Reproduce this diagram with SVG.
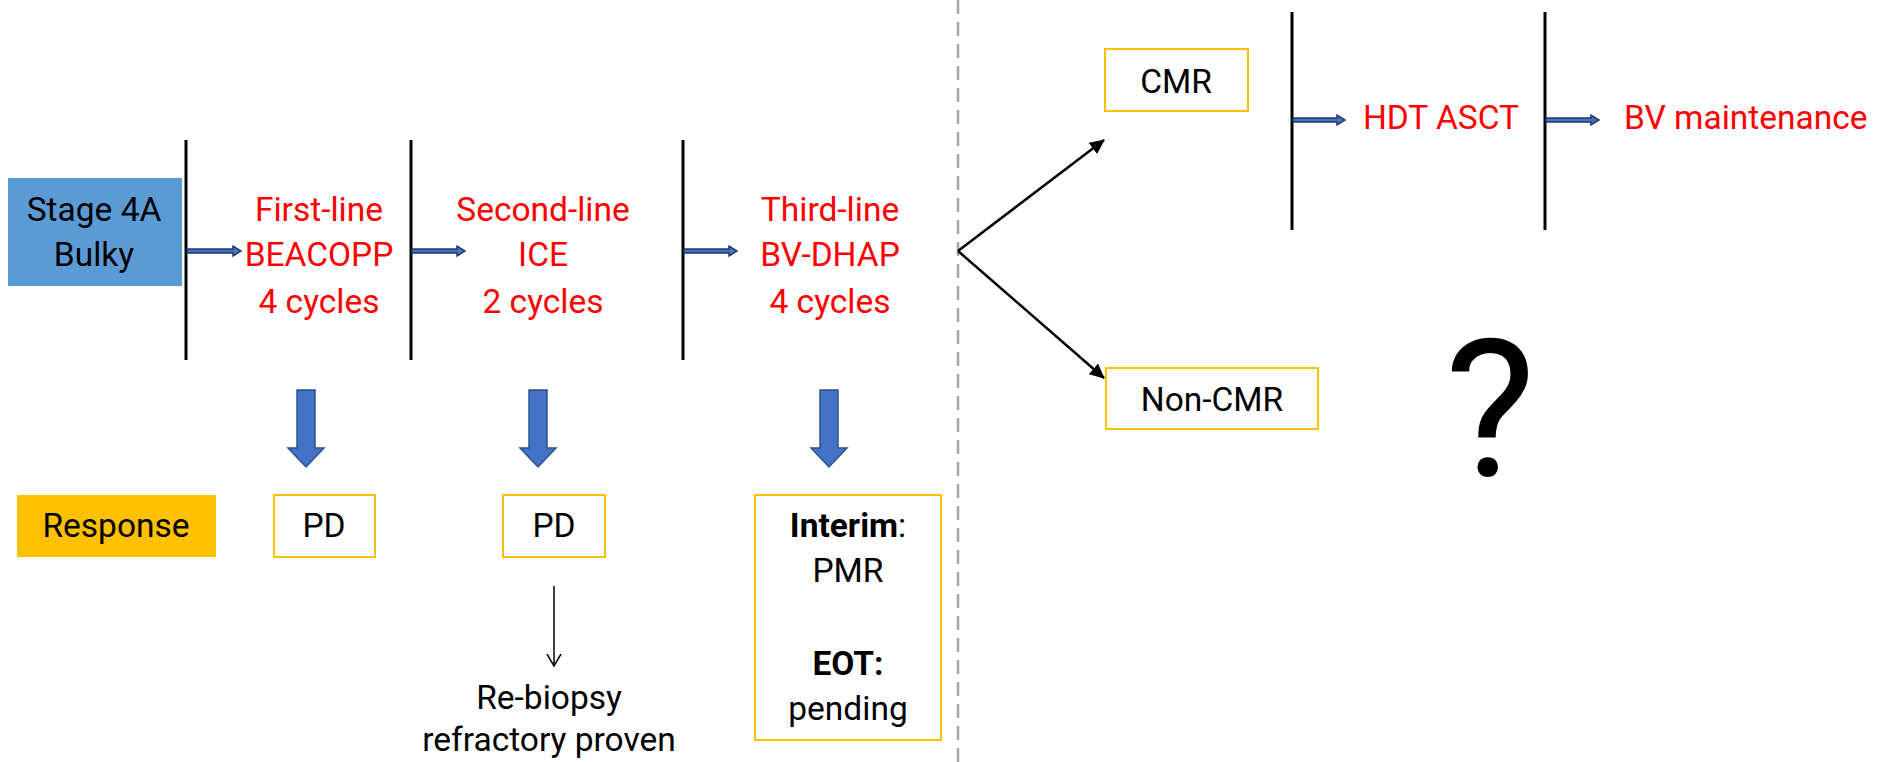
<svg xmlns="http://www.w3.org/2000/svg" width="1878" height="762" viewBox="0 0 1878 762">
<style>
text{font-family:Roboto,"Liberation Sans",sans-serif;font-size:33.5px;text-anchor:middle;fill:#000}
.red{fill:#FF0000}
.vline{stroke:#000;stroke-width:3}
.dbl{fill:#4472C4;stroke:#203864;stroke-width:1.5}
.down{fill:#4472C4;stroke:#2F528F;stroke-width:1.5}
.ybox{fill:#fff;stroke:#FFC000;stroke-width:2}
.conn{stroke:#000;stroke-width:2.5;fill:none}
.b{font-weight:bold}
</style>
<defs>
<marker id="tri" markerUnits="userSpaceOnUse" markerWidth="16" markerHeight="14" refX="14" refY="7" orient="auto">
<path d="M0,0 L15,7 L0,14 Z" fill="#000"/>
</marker>
<marker id="vee" markerUnits="userSpaceOnUse" markerWidth="14" markerHeight="16" refX="12" refY="8" orient="auto">
<path d="M0,1 L12,8 L0,15" fill="none" stroke="#000" stroke-width="1.5"/>
</marker>
</defs>
<rect width="1878" height="762" fill="#fff"/>

<line x1="958" y1="0" x2="958" y2="762" stroke="#A6A6A6" stroke-width="2.5" stroke-dasharray="14 8"/>

<g id="stage">
<rect x="8" y="178" width="174" height="108" fill="#5B9BD5"/>
<text x="94" y="221">Stage 4A</text>
<text x="94" y="266">Bulky</text>
</g>

<g id="bars">
<line class="vline" x1="186" y1="140" x2="186" y2="360"/>
<line class="vline" x1="411" y1="140" x2="411" y2="360"/>
<line class="vline" x1="683" y1="140" x2="683" y2="360"/>
<line class="vline" x1="1292" y1="12" x2="1292" y2="230"/>
<line class="vline" x1="1545" y1="12" x2="1545" y2="230"/>
</g>

<g id="first-line">
<text class="red" x="319" y="221">First-line</text>
<text class="red" x="319" y="266">BEACOPP</text>
<text class="red" x="319" y="313">4 cycles</text>
</g>
<g id="second-line">
<text class="red" x="543" y="221">Second-line</text>
<text class="red" x="543" y="266">ICE</text>
<text class="red" x="543" y="313">2 cycles</text>
</g>
<g id="third-line">
<text class="red" x="830" y="221">Third-line</text>
<text class="red" x="830" y="266">BV-DHAP</text>
<text class="red" x="830" y="313">4 cycles</text>
</g>
<g id="cmr">
<rect class="ybox" x="1105" y="49" width="143" height="62"/>
<text x="1176" y="93">CMR</text>
</g>
<g id="non-cmr">
<rect class="ybox" x="1106" y="368" width="212" height="61"/>
<text x="1212" y="411">Non-CMR</text>
</g>
<g id="hdt-asct">
<text class="red" x="1441" y="129">HDT ASCT</text>
</g>
<g id="bv-maintenance">
<text class="red" x="1624" y="129" style="text-anchor:start">BV maintenance</text>
</g>
<g id="question">
<text x="1490" y="476" style="font-size:192px">?</text>
</g>
<g id="response">
<rect x="17" y="495" width="199" height="62" fill="#FFC000"/>
<text x="116" y="537">Response</text>
</g>
<g id="pd1">
<rect class="ybox" x="274" y="495" width="101" height="62"/>
<text x="324" y="537">PD</text>
</g>
<g id="pd2">
<rect class="ybox" x="503" y="495" width="102" height="62"/>
<text x="554" y="537">PD</text>
</g>
<g id="rebiopsy">
<text x="549" y="709">Re-biopsy</text>
<text x="549" y="751">refractory proven</text>
</g>
<g id="interim">
<rect class="ybox" x="755" y="495" width="186" height="245"/>
<text x="848" y="537"><tspan class="b">Interim</tspan>:</text>
<text x="848" y="582">PMR</text>
<text x="848" y="675" class="b">EOT:</text>
<text x="848" y="720">pending</text>
</g>

<g id="connectors">
<polygon class="dbl" points="187,249 233,249 233,246 241,251 233,256 233,253 187,253"/>
<polygon class="dbl" points="412,249 457,249 457,246 465,251 457,256 457,253 412,253"/>
<polygon class="dbl" points="684,249 729,249 729,246 737,251 729,256 729,253 684,253"/>
<polygon class="dbl" points="1293,118 1337,118 1337,115 1345,120 1337,125 1337,122 1293,122"/>
<polygon class="dbl" points="1546,118 1591,118 1591,115 1599,120 1591,125 1591,122 1546,122"/>
<polygon class="down" points="297,390 315,390 315,448 324,448 306,467 288,448 297,448"/>
<polygon class="down" points="529,390 547,390 547,448 556,448 538,467 520,448 529,448"/>
<polygon class="down" points="820,390 838,390 838,448 847,448 829,467 811,448 820,448"/>
<line class="conn" x1="958" y1="251" x2="1104" y2="140" marker-end="url(#tri)"/>
<line class="conn" x1="958" y1="251" x2="1104" y2="378" marker-end="url(#tri)"/>
<line x1="554" y1="586" x2="554" y2="666" stroke="#000" stroke-width="1.5" marker-end="url(#vee)"/>
</g>
</svg>
